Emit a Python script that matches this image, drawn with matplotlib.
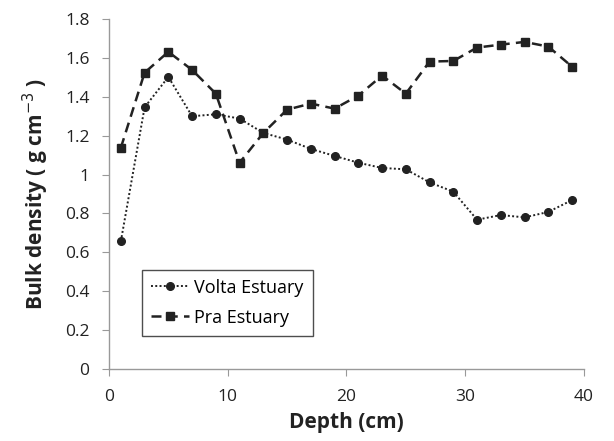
import matplotlib
matplotlib.use('Agg')
import matplotlib.pyplot as plt

plt.rcParams['font.family'] = ['Open Sans', 'DejaVu Sans']

depth = [1, 3, 5, 7, 9, 11, 13, 15, 17, 19, 21, 23, 25, 27, 29, 31, 33, 35, 37, 39]
volta = [0.657, 1.346, 1.502, 1.300, 1.310, 1.288, 1.214, 1.180, 1.132, 1.096,
         1.061, 1.034, 1.027, 0.960, 0.912, 0.768, 0.792, 0.780, 0.808, 0.869]
pra = [1.138, 1.524, 1.631, 1.538, 1.416, 1.061, 1.214, 1.334, 1.365, 1.339,
       1.406, 1.509, 1.416, 1.581, 1.584, 1.653, 1.668, 1.682, 1.658, 1.555]

fig = plt.figure(figsize=(6.14, 4.41), dpi=100)
ax = fig.add_axes([0.1775, 0.163, 0.7735, 0.794])

ax.plot(depth, volta, linestyle=(0, (1, 1.2)), color='#222222', linewidth=1.4,
        marker='o', markersize=5.5, label='Volta Estuary')
ax.plot(depth, pra, linestyle=(0, (4, 2.5)), color='#222222', linewidth=1.8,
        marker='s', markersize=6, label='Pra Estuary')

ax.set_xlim(0, 40)
ax.set_ylim(0, 1.8)
ax.set_xticks([0, 10, 20, 30, 40])
ax.set_yticks([0, 0.2, 0.4, 0.6, 0.8, 1, 1.2, 1.4, 1.6, 1.8])
ax.set_yticklabels(['0', '0.2', '0.4', '0.6', '0.8', '1', '1.2', '1.4', '1.6', '1.8'])

for s in ['top', 'right']:
    ax.spines[s].set_visible(False)
for s in ['left', 'bottom']:
    ax.spines[s].set_color('#999999')
    ax.spines[s].set_linewidth(1)
ax.tick_params(direction='out', length=5, color='#999999', labelsize=12.5, labelcolor='#222222')
ax.tick_params(axis='y', pad=9)
ax.tick_params(axis='x', pad=9)

ax.set_xlabel('Depth (cm)', fontsize=15, fontweight='bold', color='#222222', labelpad=5)
ax.set_ylabel('Bulk density ( g cm$^{-3}$ )', fontsize=15, fontweight='bold', color='#222222', labelpad=10)

leg = ax.legend(loc='lower left', bbox_to_anchor=(0.05, 0.07), fontsize=13, frameon=True,
                fancybox=False, edgecolor='#222222', handlelength=2.1, handletextpad=0.3,
                borderpad=0.5, labelspacing=0.65)
leg.get_frame().set_linewidth(1)

fig.savefig('out.png', dpi=100)
